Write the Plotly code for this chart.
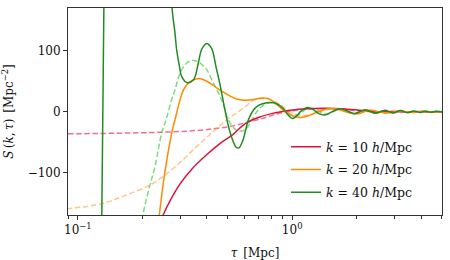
import plotly.graph_objects as go

# ---- data ----
tau_k40 = [0.120, 0.127, 0.1294, 0.1323, 0.137, 0.20, 0.25, 0.275, 0.284, 0.289, 0.298, 0.305, 0.322,
           0.346, 0.365, 0.378, 0.399, 0.421, 0.441, 0.461, 0.480, 0.500, 0.520, 0.548, 0.565, 0.590,
           0.625, 0.660, 0.700, 0.760, 0.830, 0.900, 0.950, 1.00, 1.04, 1.10, 1.17, 1.25, 1.33, 1.43,
           1.55, 1.68, 1.82, 1.95, 2.2, 2.45, 2.7, 2.95, 3.2, 3.45, 3.7, 3.95, 4.2, 4.45, 4.7, 5.0]
S_k40 = [-900, -400, -169, 170, 600, 900, 450, 170, 129, 102, 74, 58, 48,
         52, 80, 102, 112, 104, 74, 44, 12, -18, -40, -58, -59, -46,
         -13, 3, 11, 15, 14.5, 7, -4, -11, -8, 1, 7, 4, -3, -5,
         1, 5, 1, -3, 3.5, -2.5, 2.5, -2, 2, -1.5, 1.5, -1, 1, -0.8, 0.8, 0]

tau_k40_d = [0.19, 0.202, 0.217, 0.229, 0.246, 0.258, 0.274, 0.284, 0.300, 0.322, 0.346, 0.371, 0.399,
             0.429, 0.453, 0.478, 0.504, 0.540, 0.571, 0.610, 0.648, 0.709, 0.789, 0.85, 0.93, 1.0,
             1.08, 1.18, 1.30, 1.43, 1.55, 1.68, 1.95, 2.2, 2.45, 2.7, 2.95, 3.2, 3.45, 3.7, 3.95,
             4.2, 4.45, 4.7, 5.0]
S_k40_d = [-230, -166, -120, -90, -35, -13, 20, 36, 63, 80, 84, 80, 69,
           47, 31, 12, -13, -28, -32, -28, -13, 6.6, 15, 12, 2, -6,
           -4, 6, 3, -4, 0, 5, -3, 3, -2.5, 2.5, -2, 2, -1.5, 1.5, -1,
           1, -0.8, 0.8, 0]

tau_k20 = [0.230, 0.240, 0.274, 0.284, 0.300, 0.311, 0.328, 0.365, 0.400, 0.450, 0.500, 0.550,
           0.600, 0.660, 0.720, 0.770, 0.830, 0.900, 0.970, 1.05, 1.12, 1.20, 1.30, 1.40, 1.50,
           1.60, 1.75, 1.90, 2.05, 2.30, 2.75, 3.2, 3.65, 4.1, 4.55, 5.0]
S_k20 = [-260, -169, -35, -13, 20, 36, 47, 54.6, 50, 38, 28, 21,
         19, 20, 22.5, 22, 15, 4, -4, -8.5, -9, -6, -1, 3.5, 5.5,
         5, 1, -2.5, -3, 2.5, -2, 1.5, -1, 1, -0.6, 0]

tau_k20_d = [0.0887, 0.131, 0.169, 0.217, 0.25, 0.30, 0.358, 0.42, 0.495, 0.55, 0.603, 0.65, 0.74,
             0.85, 0.95, 1.05, 1.15, 1.30, 1.50, 1.70, 1.95, 2.30, 2.75, 3.2, 3.65, 4.1, 4.55, 5.0]
S_k20_d = [-159, -150, -136, -120, -106, -83, -57, -35, -13, -2, 8, 18, 22,
           15, 3, -5, -6, -1, 4.5, 2, -3, 2.5, -2, 1.5, -1, 1, -0.6, 0]

tau_k10 = [0.240, 0.250, 0.270, 0.300, 0.340, 0.400, 0.460, 0.530, 0.600, 0.700, 0.800, 0.900,
           1.00, 1.20, 1.40, 1.70, 2.0, 2.5, 3.0, 3.5, 4.0, 4.5, 5.0]
S_k10 = [-185, -169, -145, -118, -94, -70, -52, -37, -20, -9, -3, 0.5,
         3, 5, 6, 5, 3, -0.5, 0.6, -0.4, 0.3, -0.2, 0]

tau_k10_d = [0.09, 0.217, 0.358, 0.513, 0.636, 0.709, 0.88, 1.09, 1.35, 1.60, 2.0, 2.5, 3.0,
             3.5, 4.0, 4.5, 5.0]
S_k10_d = [-36, -34, -30.6, -24, -16, -12, -2, 3.3, 5.5, 5, 2, -0.5, 0.6,
           -0.4, 0.3, -0.2, 0]

labels = ["<i>k</i> = 10 <i>h</i>/Mpc", "<i>k</i> = 20 <i>h</i>/Mpc", "<i>k</i> = 40 <i>h</i>/Mpc"]

x_tickvals = [0.1, 1.0]
x_ticktext = ["10<sup>−1</sup>", "10<sup>0</sup>"]
x_minor = [0.09, 0.2, 0.3, 0.4, 0.5, 0.6, 0.7, 0.8, 0.9, 2, 3, 4, 5]
y_tickvals = [-100, 0, 100]

# ---- styles ----
C_RED = "#DC143C"
C_ORA = "#FF8C00"
C_GRN = "#228B22"
C_RED_D = "rgba(232,60,100,0.72)"
C_ORA_D = "rgba(255,160,60,0.6)"
C_GRN_D = "rgba(60,200,60,0.65)"
DASH = "5.5px,2.6px"
FONT = "DejaVu Serif"

fig = go.Figure()

# dashed (behind)
for t, s, c in [(tau_k10_d, S_k10_d, C_RED_D), (tau_k20_d, S_k20_d, C_ORA_D), (tau_k40_d, S_k40_d, C_GRN_D)]:
    fig.add_trace(go.Scatter(x=t, y=s, mode="lines", showlegend=False,
                             line=dict(color=c, width=1.5, dash=DASH, shape="spline", smoothing=1.0)))

for i, (t, s, c, name) in enumerate([(tau_k10, S_k10, C_RED, labels[0]), (tau_k20, S_k20, C_ORA, labels[1]),
                                     (tau_k40, S_k40, C_GRN, labels[2])]):
    fig.add_trace(go.Scatter(x=t, y=s, mode="lines", name=name, legendgroup=f"g{i}",
                             line=dict(color=c, width=1.5, shape="spline", smoothing=1.0)))

axis_common = dict(showline=True, mirror=True, linecolor="#333", linewidth=1, showgrid=False,
                   zeroline=False, ticks="outside", tickcolor="#333", automargin=False,
                   tickfont=dict(size=12, color="#111", family=FONT))

fig.update_xaxes(type="log", range=[-1.0458, 0.699], tickvals=x_tickvals, ticktext=x_ticktext,
                 ticklen=4, tickwidth=1,
                 minor=dict(tickvals=x_minor, ticks="outside", ticklen=2.5, tickcolor="#333", tickwidth=0.8),
                 title=dict(text="<i>τ</i>\u2002[Mpc]", font=dict(size=12, color="#111", family=FONT), standoff=13),
                 **axis_common)
fig.update_yaxes(range=[-169, 170], tickvals=y_tickvals, ticklen=4, tickwidth=1,
                 title=dict(text="<i>S</i>\u2009(<i>k</i>,\u2009<i>τ</i>)\u2002[Mpc<sup>−2</sup>]",
                            font=dict(size=12, color="#111", family=FONT), standoff=14),
                 **axis_common)

fig.update_layout(
    width=450, height=260,
    margin=dict(l=68, r=8, t=8, b=45),
    plot_bgcolor="white", paper_bgcolor="white",
    font=dict(family=FONT, size=12, color="#111"),
    legend=dict(x=0.583, y=0.40, xanchor="left", yanchor="top", bgcolor="rgba(255,255,255,0.85)",
                borderwidth=0, font=dict(size=12.5, family=FONT), itemwidth=30, tracegroupgap=3.5),
    showlegend=True,
)

fig.write_html("out.html", config={"displayModeBar": False},
               post_script="document.body.style.margin='0';document.body.style.padding='0';")
